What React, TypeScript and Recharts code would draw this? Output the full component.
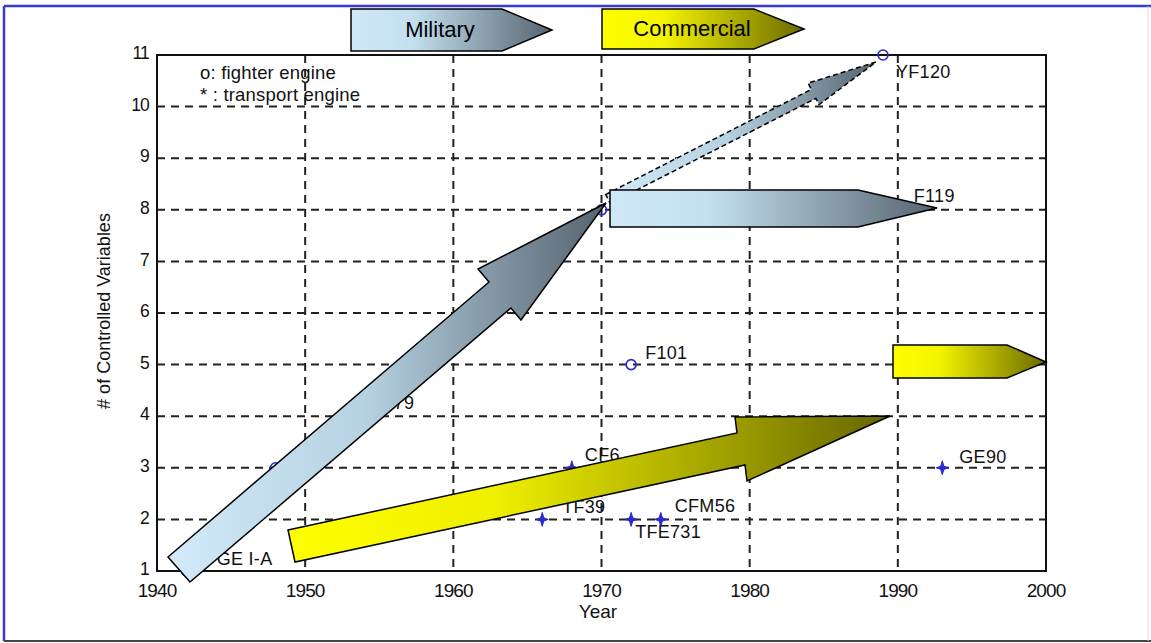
import React from 'react';
import { ScatterChart, Scatter, XAxis, YAxis, CartesianGrid, ReferenceArea } from 'recharts';

// fighter engines (drawn with 'o')
const fighterNames = ['GE I-A', 'J47', 'J79', 'F100', 'F101', 'YF120', 'F119'];
const fighterYears = [1942, 1948, 1954, 1970, 1972, 1989, 1990];
const fighterVars = [1, 3, 4, 8, 5, 11, 8];

// transport engines (drawn with '*')
const transportNames = ['TF39', 'CF6', 'TFE731', 'CFM56', 'GE90'];
const transportYears = [1966, 1968, 1972, 1974, 1993];
const transportVars = [2, 3, 2, 2, 3];

const yearTicks = [1940, 1950, 1960, 1970, 1980, 1990, 2000];
const varTicks = [1, 2, 3, 4, 5, 6, 7, 8, 9, 10, 11];

// where each engine name sits relative to its marker
const labelOffsets: Record<string, { dx: number; dy: number }> = {
    'GE I-A': { dx: 30, dy: -11 },
    J47: { dx: 14, dy: -9 },
    J79: { dx: 20, dy: -12 },
    F100: { dx: 14, dy: -9 },
    F101: { dx: 14, dy: -10 },
    YF120: { dx: 13, dy: 18 },
    F119: { dx: 16, dy: -13 },
    TF39: { dx: 20, dy: -11 },
    CF6: { dx: 13, dy: -12 },
    TFE731: { dx: 4, dy: 14 },
    CFM56: { dx: 14, dy: -12 },
    GE90: { dx: 17, dy: -10 },
};

const fighterData = fighterNames.map((name, i) => ({ name, year: fighterYears[i], vars: fighterVars[i] }));
const transportData = transportNames.map((name, i) => ({ name, year: transportYears[i], vars: transportVars[i] }));

const FONT = '"Liberation Sans", Arial, sans-serif';
const MARKER = '#2a2ac8';

const EngineLabel = ({ x, y, name }: { x: number; y: number; name: string }) => {
    const off = labelOffsets[name] || { dx: 12, dy: -10 };
    return (
        <text
            x={x + off.dx}
            y={y + off.dy}
            dominantBaseline="middle"
            fontFamily={FONT}
            fontSize={18}
            letterSpacing={0.3}
            fill="#111"
        >
            {name}
        </text>
    );
};

const FighterShape = (props: any) => {
    const { cx, cy } = props;
    const name = props.payload?.name ?? props.name;
    return (
        <g>
            <circle cx={cx} cy={cy} r={5} fill="none" stroke={MARKER} strokeWidth={1.6} />
            <EngineLabel x={cx} y={cy} name={name} />
        </g>
    );
};

const TransportShape = (props: any) => {
    const { cx, cy } = props;
    const name = props.payload?.name ?? props.name;
    const d = `M${cx},${cy - 7} L${cx + 1.6},${cy - 1.6} L${cx + 6},${cy} L${cx + 1.6},${cy + 1.6} L${cx},${cy + 7} L${cx - 1.6},${cy + 1.6} L${cx - 6},${cy} L${cx - 1.6},${cy - 1.6} Z`;
    return (
        <g>
            <path d={d} fill={MARKER} stroke={MARKER} strokeWidth={1} />
            <EngineLabel x={cx} y={cy} name={name} />
        </g>
    );
};

// y tick nudged up a touch so "1" clears "1940"
const VarTick = (props: any) => {
    const { x, y, payload } = props;
    return (
        <text
            x={x}
            y={y - 2}
            dy="0.355em"
            textAnchor="end"
            fontFamily={FONT}
            fontSize={17.5}
            letterSpacing={-0.8}
            fill="#111"
        >
            {payload.value}
        </text>
    );
};

// block arrows and headers drawn on top of the plot
const Annotations = () => (
    <svg
        width={1151}
        height={643}
        style={{ position: 'absolute', left: 0, top: 0, pointerEvents: 'none' }}
    >
        <defs>
            <linearGradient id="milGrad" x1="0" y1="0" x2="1" y2="0">
                <stop offset="0%" stopColor="#d2eaf9" />
                <stop offset="45%" stopColor="#b6d1e1" />
                <stop offset="100%" stopColor="#55636e" />
            </linearGradient>
            <linearGradient id="milBarGrad" x1="0" y1="0" x2="1" y2="0">
                <stop offset="0%" stopColor="#cfe8f8" />
                <stop offset="30%" stopColor="#c4e0f0" />
                <stop offset="100%" stopColor="#56646f" />
            </linearGradient>
            <linearGradient id="comGrad" x1="0" y1="0" x2="1" y2="0">
                <stop offset="0%" stopColor="#ffff00" />
                <stop offset="35%" stopColor="#eeee00" />
                <stop offset="100%" stopColor="#666600" />
            </linearGradient>
            <linearGradient id="comBarGrad" x1="0" y1="0" x2="1" y2="0">
                <stop offset="0%" stopColor="#ffff00" />
                <stop offset="30%" stopColor="#f4f400" />
                <stop offset="100%" stopColor="#6a6a00" />
            </linearGradient>
        </defs>

        {/* axis titles + key */}
        <text x={598} y={613} textAnchor="middle" dominantBaseline="middle" fontFamily={FONT} fontSize={19} fill="#111">
            Year
        </text>
        <text
            transform="translate(105,311) rotate(-90)"
            textAnchor="middle"
            dominantBaseline="middle"
            fontFamily={FONT}
            fontSize={18}
            fill="#111"
        >
            # of Controlled Variables
        </text>
        <text x={200} y={74} dominantBaseline="middle" fontFamily={FONT} fontSize={18.5} letterSpacing={0.2} fill="#111">
            o: fighter engine
        </text>
        <text x={200} y={96} dominantBaseline="middle" fontFamily={FONT} fontSize={18.5} letterSpacing={0.2} fill="#111">
            * : transport engine
        </text>

        {/* headers */}
        <polygon points="351,9 502,9 552,30 502,51 351,51" fill="url(#milBarGrad)" stroke="#000" strokeWidth={1.5} />
        <text x={440} y={31} textAnchor="middle" dominantBaseline="middle" fontFamily={FONT} fontSize={22} fill="#000">
            Military
        </text>
        <polygon points="602,9 754,9 804,29 754,49 602,49" fill="url(#comBarGrad)" stroke="#000" strokeWidth={1.5} />
        <text x={692} y={30} textAnchor="middle" dominantBaseline="middle" fontFamily={FONT} fontSize={22} fill="#000">
            Commercial
        </text>

        {/* military trend */}
        <polygon
            points="168,557 489,282 478,269 606,203 521,320 511,308 190,582"
            fill="url(#milGrad)"
            stroke="#000"
            strokeWidth={1.5}
        />
        <polygon
            points="605.7,194.5 811.3,89.4 808.1,83.2 876,62 819.1,104.6 815.9,98.4 610.3,203.5"
            fill="url(#milGrad)"
            stroke="#000"
            strokeWidth={1.5}
            strokeDasharray="5 3"
        />
        <polygon points="610,190 858,190 937,208 858,227 610,227" fill="url(#milBarGrad)" stroke="#000" strokeWidth={1.5} />

        {/* commercial trend */}
        <polygon
            points="288,530 737,433 735,417 890,416 747,481 745,465 295,562"
            fill="url(#comGrad)"
            stroke="#000"
            strokeWidth={1.5}
        />
        <polygon points="893,345 1007,345 1046,362 1007,378 893,378" fill="url(#comBarGrad)" stroke="#000" strokeWidth={1.5} />

        {/* slide frame */}
        <line x1={4} y1={6} x2={1151} y2={6} stroke="#3a3ad0" strokeWidth={2.5} />
        <line x1={4} y1={6} x2={4} y2={641} stroke="#3a3ad0" strokeWidth={2.5} />
        <line x1={4} y1={641} x2={1151} y2={641} stroke="#444" strokeWidth={2} />
        <line x1={1148} y1={6} x2={1148} y2={641} stroke="#ddd" strokeWidth={1} />
    </svg>
);

export default function App() {
    return (
        <div style={{ position: 'absolute', left: 0, top: 0, width: 1151, height: 643, background: '#fff' }}>
            <ScatterChart width={1151} height={643} margin={{ top: 55, right: 105, bottom: 32, left: 97 }}>
                <CartesianGrid stroke="#222" strokeWidth={2} strokeDasharray="8 6" />
                <XAxis
                    type="number"
                    dataKey="year"
                    domain={[1940, 2000]}
                    ticks={yearTicks}
                    height={40}
                    tickLine={false}
                    axisLine={false}
                    tickMargin={7}
                    tick={{ fontSize: 19, fill: '#111', fontFamily: FONT, letterSpacing: -0.9 }}
                />
                <YAxis
                    type="number"
                    dataKey="vars"
                    domain={[1, 11]}
                    ticks={varTicks}
                    width={60}
                    tickLine={false}
                    axisLine={false}
                    tick={<VarTick />}
                />
                <ReferenceArea
                    x1={1940}
                    x2={2000}
                    y1={1}
                    y2={11}
                    fill="none"
                    fillOpacity={0}
                    stroke="#111"
                    strokeWidth={2}
                    ifOverflow="visible"
                />
                <Scatter data={fighterData} shape={FighterShape} isAnimationActive={false} />
                <Scatter data={transportData} shape={TransportShape} isAnimationActive={false} />
            </ScatterChart>
            <Annotations />
        </div>
    );
}
